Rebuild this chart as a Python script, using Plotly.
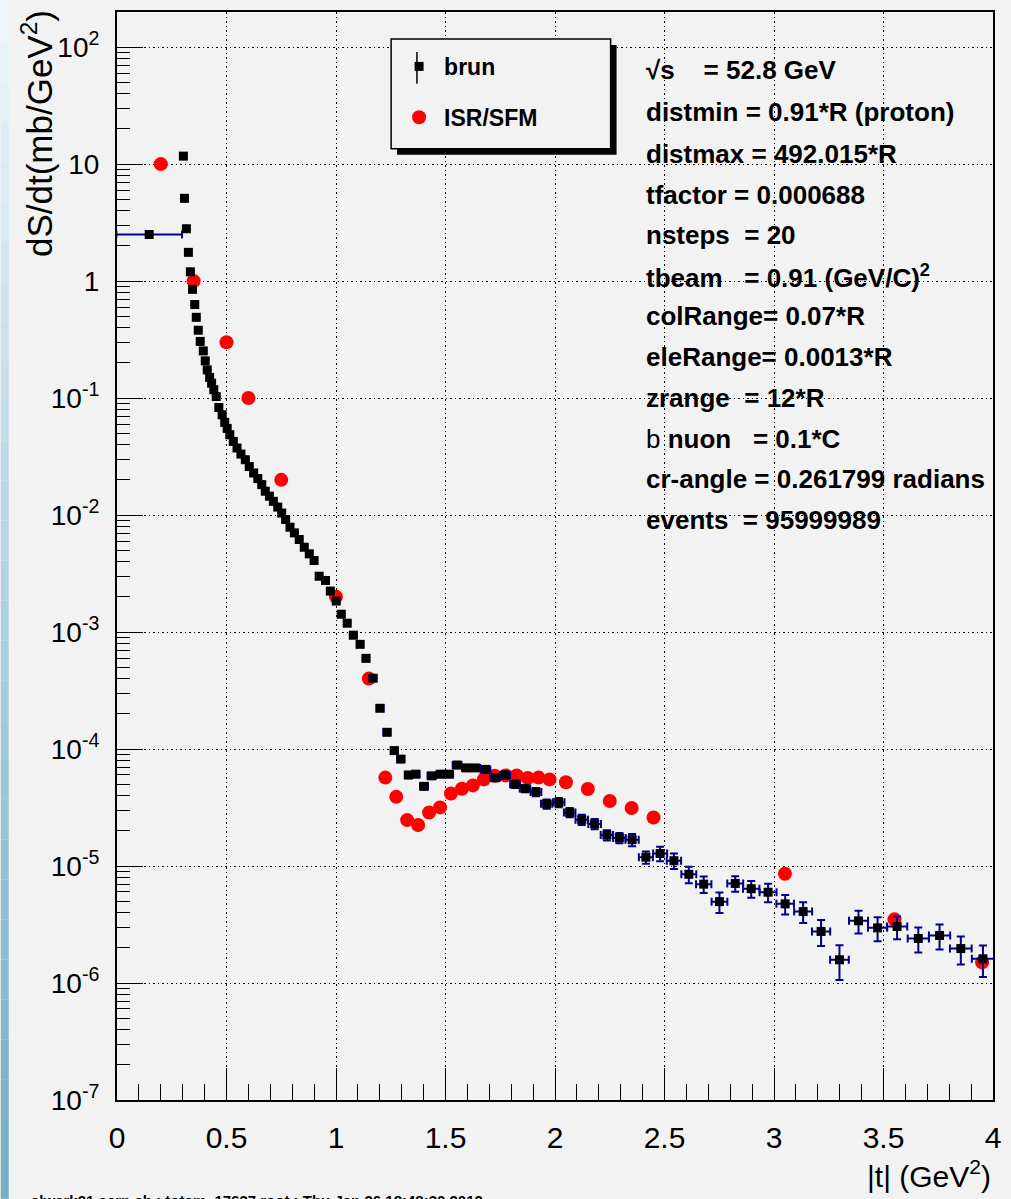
import numpy as np
import plotly.graph_objects as go

# ---------------- data ----------------
brun_t = [0.147, 0.303, 0.308, 0.317, 0.326, 0.335, 0.345, 0.355, 0.362, 0.371,
          0.380, 0.394, 0.403, 0.412, 0.423, 0.432, 0.442, 0.453, 0.465, 0.480,
          0.492, 0.503, 0.515, 0.531, 0.548, 0.566, 0.586, 0.604, 0.624, 0.643,
          0.661, 0.677, 0.696, 0.714, 0.734, 0.752, 0.770, 0.790, 0.810, 0.832,
          0.855, 0.878, 0.900, 0.923, 0.952, 0.974, 1.001, 1.024, 1.051, 1.079,
          1.110, 1.137, 1.169, 1.201, 1.233, 1.266, 1.296, 1.331, 1.364, 1.402,
          1.437, 1.478, 1.516, 1.553, 1.596, 1.636, 1.682, 1.727, 1.772, 1.818,
          1.863, 1.913, 1.962, 2.017, 2.067, 2.122, 2.181, 2.237, 2.294, 2.352,
          2.415, 2.480, 2.543, 2.611, 2.679, 2.751, 2.823, 2.896, 2.973, 3.051,
          3.133, 3.215, 3.299, 3.386, 3.473, 3.562, 3.659, 3.756, 3.853, 3.954]
brun_dsdt = [2.5, 11.7, 5.1, 2.8, 1.76, 1.2, 0.85, 0.63, 0.49, 0.38,
             0.305, 0.253, 0.208, 0.174, 0.15, 0.134, 0.118, 0.103, 0.083, 0.072,
             0.062, 0.055, 0.0486, 0.0426, 0.0374, 0.0332, 0.0297, 0.026, 0.0229, 0.0205,
             0.0182, 0.016, 0.0145, 0.0131, 0.0117, 0.0104, 0.00916, 0.00787, 0.00704, 0.00618,
             0.00531, 0.00466, 0.00409, 0.0030, 0.00276, 0.00224, 0.00184, 0.00142, 0.00119, 0.00094,
             7.85e-4, 5.96e-4, 4.03e-4, 2.23e-4, 1.39e-4, 9.7e-5, 8.2e-5, 6.0e-5, 6.1e-5, 4.8e-5,
             5.9e-5, 6.1e-5, 6.1e-5, 7.3e-5, 6.9e-5, 6.9e-5, 6.7e-5, 5.7e-5, 6.0e-5, 5.0e-5,
             4.6e-5, 4.3e-5, 3.4e-5, 3.5e-5, 2.87e-5, 2.49e-5, 2.29e-5, 1.84e-5, 1.74e-5, 1.68e-5,
             1.19e-5, 1.28e-5, 1.11e-5, 8.5e-6, 7.0e-6, 4.96e-6, 7.1e-6, 6.4e-6, 5.97e-6, 4.75e-6,
             4.08e-6, 2.76e-6, 1.58e-6, 3.4e-6, 2.96e-6, 3.04e-6, 2.4e-6, 2.55e-6, 1.97e-6, 1.61e-6]
brun_relerr = [0.01, 0.005, 0.005, 0.005, 0.005, 0.005, 0.005, 0.005, 0.005, 0.005,
               0.005, 0.005, 0.005, 0.005, 0.005, 0.005, 0.005, 0.005, 0.01, 0.01,
               0.01, 0.01, 0.01, 0.01, 0.01, 0.01, 0.01, 0.01, 0.01, 0.01,
               0.01, 0.01, 0.01, 0.01, 0.01, 0.01, 0.01, 0.01, 0.01, 0.01,
               0.01, 0.01, 0.01, 0.02, 0.02, 0.02, 0.025, 0.025, 0.03, 0.03,
               0.03, 0.035, 0.04, 0.04, 0.045, 0.05, 0.05, 0.06, 0.06, 0.06,
               0.06, 0.06, 0.06, 0.06, 0.06, 0.06, 0.07, 0.07, 0.07, 0.07,
               0.07, 0.08, 0.09, 0.09, 0.09, 0.10, 0.10, 0.10, 0.10, 0.12,
               0.12, 0.14, 0.15, 0.16, 0.16, 0.20, 0.15, 0.165, 0.18, 0.19,
               0.20, 0.25, 0.33, 0.22, 0.23, 0.22, 0.24, 0.24, 0.27, 0.30]
first_bin_halfwidth = 0.15

isr_t = [0.2, 0.35, 0.5, 0.6, 0.75, 1.0, 1.15, 1.225, 1.275, 1.325, 1.375, 1.425,
         1.475, 1.525, 1.575, 1.625, 1.675, 1.725, 1.775, 1.825, 1.875, 1.925,
         1.975, 2.05, 2.15, 2.25, 2.35, 2.45, 3.05, 3.55, 3.95]
isr_dsdt = [10, 1.0, 0.3, 0.1, 0.02, 0.002, 4.0e-4, 5.7e-5, 3.9e-5, 2.47e-5, 2.24e-5, 2.87e-5,
            3.17e-5, 4.17e-5, 4.57e-5, 4.89e-5, 5.5e-5, 5.9e-5, 5.94e-5, 5.94e-5, 5.65e-5, 5.7e-5,
            5.5e-5, 5.2e-5, 4.55e-5, 3.6e-5, 3.13e-5, 2.6e-5, 8.6e-6, 3.5e-6, 1.5e-6]

info_lines = [
    "<b>\u221as\u00a0\u00a0\u00a0\u00a0= 52.8 GeV</b>",
    "<b>distmin = 0.91*R (proton)</b>",
    "<b>distmax = 492.015*R</b>",
    "<b>tfactor = 0.000688</b>",
    "<b>nsteps\u00a0\u00a0= 20</b>",
    "<b>tbeam\u00a0\u00a0\u00a0= 0.91 (GeV/C)<sup>2</sup></b>",
    "<b>colRange= 0.07*R</b>",
    "<b>eleRange= 0.0013*R</b>",
    "<b>zrange\u00a0\u00a0= 12*R</b>",
    "b <b>nuon\u00a0\u00a0\u00a0= 0.1*C</b>",
    "<b>cr-angle = 0.261799 radians</b>",
    "<b>events\u00a0\u00a0= 95999989</b>",
]

y_major = [1e-7, 1e-6, 1e-5, 1e-4, 1e-3, 1e-2, 1e-1, 1, 10, 100]
y_labels = ["10<sup>-7</sup>", "10<sup>-6</sup>", "10<sup>-5</sup>", "10<sup>-4</sup>",
            "10<sup>-3</sup>", "10<sup>-2</sup>", "10<sup>-1</sup>", "1", "10", "10<sup>2</sup>"]

# ---------------- geometry helpers ----------------
W, H = 1011, 1199
ML, MR, MT, MB = 117, 12, 10, 99
PW, PH = W - ML - MR, H - MT - MB


def fx(p):
    return (p - ML) / PW


def fy(p):
    return (H - MB - p) / PH


t = np.array(brun_t)
v = np.array(brun_dsdt)
xerr = np.concatenate([[first_bin_halfwidth], np.gradient(t[1:]) / 2.0])
yerr = v * np.array(brun_relerr)

FONT = "Liberation Sans, Arial, Helvetica, sans-serif"
ERRC = "#000090"
GRIDDASH = "1.5px,3px"

fig = go.Figure()
fig.add_trace(go.Scatter(
    x=isr_t, y=isr_dsdt, mode="markers", name="ISR/SFM", legendrank=2, legendgroup="isr",
    marker=dict(symbol="circle", size=14, color="#ff0000", line=dict(width=0)),
))
fig.add_trace(go.Scatter(
    x=t, y=v, mode="markers", name="brun", legendrank=1, legendgroup="brun",
    marker=dict(symbol="square", size=9, color="black", line=dict(width=0)),
    error_x=dict(type="data", array=xerr, color=ERRC, thickness=2, width=4),
    error_y=dict(type="data", array=yerr, color=ERRC, thickness=2, width=4),
))

shapes = []
# left decorative gradient strip
nseg = 30
c_top = np.array([236, 246, 250])
c_bot = np.array([118, 174, 198])
for i in range(nseg):
    f = i / (nseg - 1)
    c = (c_top * (1 - f) + c_bot * f).astype(int)
    y0p = H * i / nseg
    y1p = H * (i + 1) / nseg
    shapes.append(dict(type="rect", xref="paper", yref="paper",
                       x0=fx(0), x1=fx(8), y0=fy(y1p), y1=fy(y0p),
                       fillcolor=f"rgb({c[0]},{c[1]},{c[2]})", line=dict(width=0), layer="above"))
# legend box shadow + box
shapes.append(dict(type="rect", xref="paper", yref="paper",
                   x0=fx(399), x1=fx(620), y0=fy(153), y1=fy(43),
                   fillcolor="black", line=dict(width=0), layer="above"))
shapes.append(dict(type="rect", xref="paper", yref="paper",
                   x0=fx(393), x1=fx(614), y0=fy(147), y1=fy(37),
                   fillcolor="#f2f2f2", line=dict(color="black", width=1.5), layer="above"))
# error-bar stroke of the "brun" legend icon
shapes.append(dict(type="line", xref="paper", yref="paper",
                   x0=fx(419), x1=fx(419), y0=fy(82), y1=fy(50),
                   line=dict(color="black", width=1.5), layer="above"))

annotations = []
line_y = [68, 110, 152, 193, 233, 275, 315, 356, 397, 438, 478, 519]
for txt, yy in zip(info_lines, line_y):
    annotations.append(dict(text=txt, xref="paper", yref="paper", x=fx(648), y=fy(yy),
                            xanchor="left", yanchor="middle", showarrow=False,
                            font=dict(family=FONT, size=26, color="black")))
annotations.append(dict(text="dS/dt(mb/GeV<sup>2</sup>)", xref="paper", yref="paper",
                        x=fx(36), y=fy(6), xanchor="center", yanchor="top", textangle=-90,
                        showarrow=False, font=dict(family=FONT, size=35, color="black")))
annotations.append(dict(text="|t| (GeV<sup>2</sup>)", xref="paper", yref="paper",
                        x=fx(999), y=fy(1174), xanchor="right", yanchor="middle",
                        showarrow=False, font=dict(family=FONT, size=30, color="black")))
annotations.append(dict(text="<b>alwark21.cern.ch : totem, 17637 root : Thu Jan 26 18:48:30 2012</b>",
                        xref="paper", yref="paper", x=fx(28), y=fy(1190), xanchor="left",
                        yanchor="top", showarrow=False,
                        font=dict(family=FONT, size=15, color="black")))

y_minor = [m * 10.0 ** k for k in range(-7, 3) for m in range(2, 10)]

fig.update_layout(
    width=W, height=H, autosize=False,
    margin=dict(l=ML, r=MR, t=MT, b=MB, pad=0),
    paper_bgcolor="#f2f2f2", plot_bgcolor="#f2f2f2",
    font=dict(family=FONT, color="black"),
    showlegend=True,
    legend=dict(x=fx(396), y=fy(43), xanchor="left", yanchor="top",
                bgcolor="rgba(0,0,0,0)", borderwidth=0,
                traceorder="grouped", tracegroupgap=18,
                font=dict(family=FONT, size=23, color="black", weight="bold"),
                itemwidth=40),
    shapes=shapes,
    annotations=annotations,
    xaxis=dict(
        range=[0, 4], dtick=0.5, tick0=0, tickmode="linear",
        ticks="inside", ticklen=32, tickwidth=1, tickcolor="black",
        showline=True, linecolor="black", linewidth=2, mirror=True,
        showgrid=True, gridcolor="black", gridwidth=1, griddash=GRIDDASH,
        zeroline=False,
        tickfont=dict(family=FONT, size=30, color="black"),
        ticklabelstandoff=10,
        minor=dict(dtick=0.1, tick0=0, ticks="inside", ticklen=16, tickwidth=1,
                   tickcolor="black", showgrid=False),
    ),
    yaxis=dict(
        type="log", range=[-7, 2.3],
        tickmode="array", tickvals=y_major, ticktext=y_labels,
        ticks="inside", ticklen=26, tickwidth=1, tickcolor="black",
        showline=True, linecolor="black", linewidth=2, mirror=True,
        showgrid=True, gridcolor="black", gridwidth=1, griddash=GRIDDASH,
        zeroline=False,
        tickfont=dict(family=FONT, size=28, color="black"),
        ticklabelstandoff=10,
        minor=dict(tickmode="array", tickvals=y_minor, ticks="inside", ticklen=13,
                   tickwidth=1, tickcolor="black", showgrid=False),
    ),
)

fig.write_html("out.html")
